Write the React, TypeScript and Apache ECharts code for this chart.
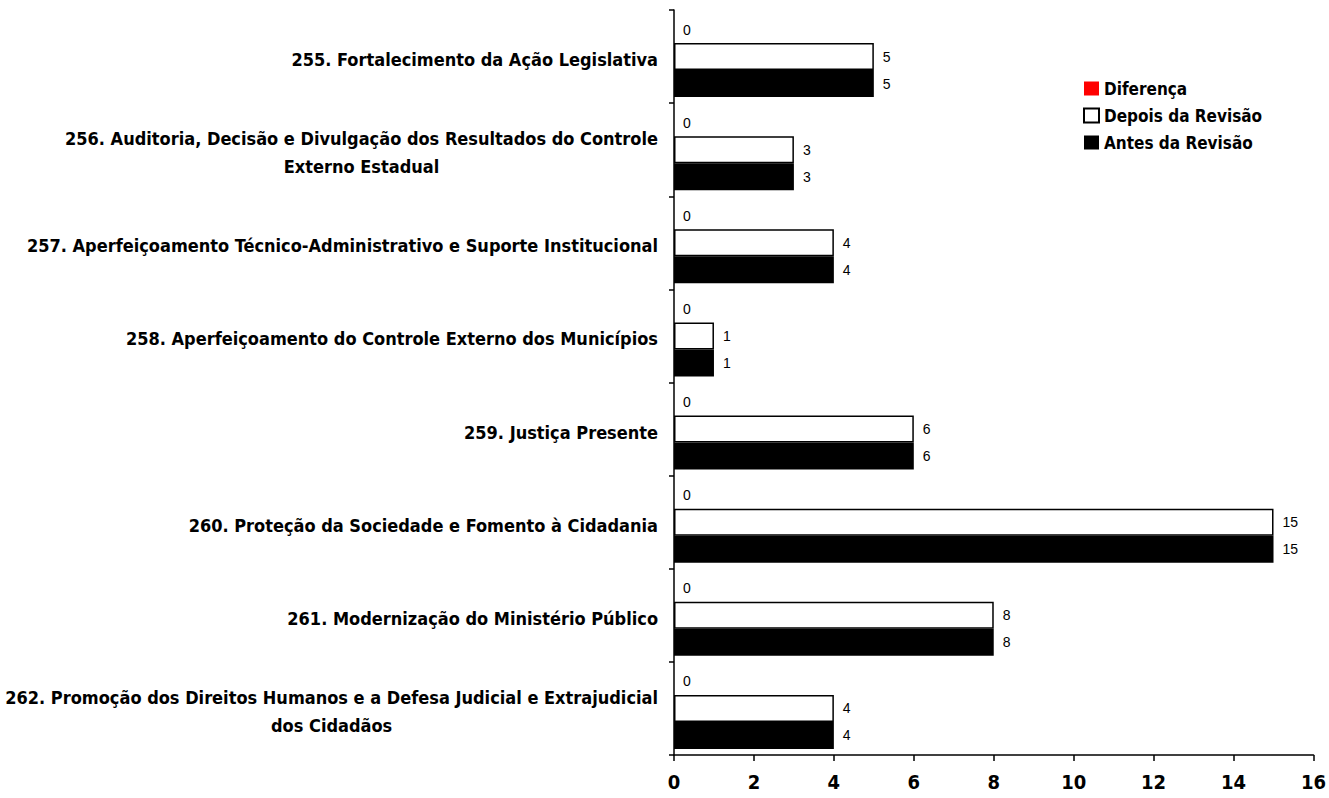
import React, { useEffect, useRef } from "react";
import * as echarts from "echarts";

const categories = [
  "255. Fortalecimento da Ação Legislativa",
  "256. Auditoria, Decisão e Divulgação dos Resultados do Controle\nExterno Estadual",
  "257. Aperfeiçoamento Técnico-Administrativo e Suporte Institucional",
  "258. Aperfeiçoamento do Controle Externo dos Municípios",
  "259. Justiça Presente",
  "260. Proteção da Sociedade e Fomento à Cidadania",
  "261. Modernização do Ministério Público",
  "262. Promoção dos Direitos Humanos e a Defesa Judicial e Extrajudicial\ndos Cidadãos",
];
const diferenca = [0, 0, 0, 0, 0, 0, 0, 0];
const depois = [5, 3, 4, 1, 6, 15, 8, 4];
const antes = [5, 3, 4, 1, 6, 15, 8, 4];
const xTicks = { min: 0, max: 16, interval: 2 };

const FONT = "'Liberation Sans Narrow', 'DejaVu Sans Condensed', Arial, sans-serif";
const PLAIN = "'Liberation Sans', Arial, sans-serif";

export default function App() {
  const ref = useRef<HTMLDivElement>(null);
  useEffect(() => {
    document.body.style.margin = "0";
    const chart = echarts.init(ref.current!, null, { renderer: "svg" });
    const label = {
      show: true,
      position: "right" as const,
      distance: 9,
      color: "#000",
      fontSize: 14,
      fontFamily: PLAIN,
    };
    chart.setOption({
      animation: false,
      backgroundColor: "#fff",
      grid: { left: 674, right: 13, top: 10, bottom: 43, containLabel: false },
      legend: {
        orient: "vertical",
        left: 1078,
        top: 75,
        itemWidth: 15,
        itemHeight: 14,
        itemGap: 10,
        icon: "rect",
        textStyle: { fontFamily: FONT, fontWeight: "bold", fontSize: 17, color: "#000" },
        data: ["Diferença", "Depois da Revisão", "Antes da Revisão"],
      },
      xAxis: {
        type: "value",
        min: xTicks.min,
        max: xTicks.max,
        interval: xTicks.interval,
        axisLine: { show: true, lineStyle: { color: "#000", width: 1.5 } },
        axisTick: { show: true, inside: false, length: 6, lineStyle: { color: "#000", width: 1.5 } },
        axisLabel: { color: "#000", fontFamily: FONT, fontWeight: "bold", fontSize: 20, margin: 17 },
        splitLine: { show: false },
      },
      yAxis: {
        type: "category",
        inverse: true,
        data: categories,
        axisLine: { show: true, lineStyle: { color: "#000", width: 1.5 } },
        axisTick: { show: true, inside: false, length: 5, lineStyle: { color: "#000", width: 1.5 } },
        axisLabel: {
          color: "#000",
          margin: 16,
          align: "right",
          fontFamily: FONT,
          fontWeight: "bold",
          fontSize: 18,
          lineHeight: 28,
          formatter: (v: string) => v.split("\n").map((l) => `{c|${l}}`).join("\n"),
          rich: {
            c: { align: "center", fontFamily: FONT, fontWeight: "bold", fontSize: 18, lineHeight: 28, color: "#000", padding: [6, 0, 0, 0] },
          },
        },
      },
      series: [
        {
          name: "Diferença",
          type: "bar",
          data: diferenca,
          barWidth: 27,
          barGap: "0%",
          itemStyle: { color: "#ff0000" },
          label,
        },
        {
          name: "Depois da Revisão",
          type: "bar",
          data: depois,
          barWidth: 27,
          barGap: "0%",
          itemStyle: { color: "#fff", borderColor: "#000", borderWidth: 1.5 },
          label,
        },
        {
          name: "Antes da Revisão",
          type: "bar",
          data: antes,
          barWidth: 27,
          barGap: "0%",
          itemStyle: { color: "#000" },
          label,
        },
      ],
    });
    return () => chart.dispose();
  }, []);
  return <div ref={ref} style={{ width: 1329, height: 798 }} />;
}
